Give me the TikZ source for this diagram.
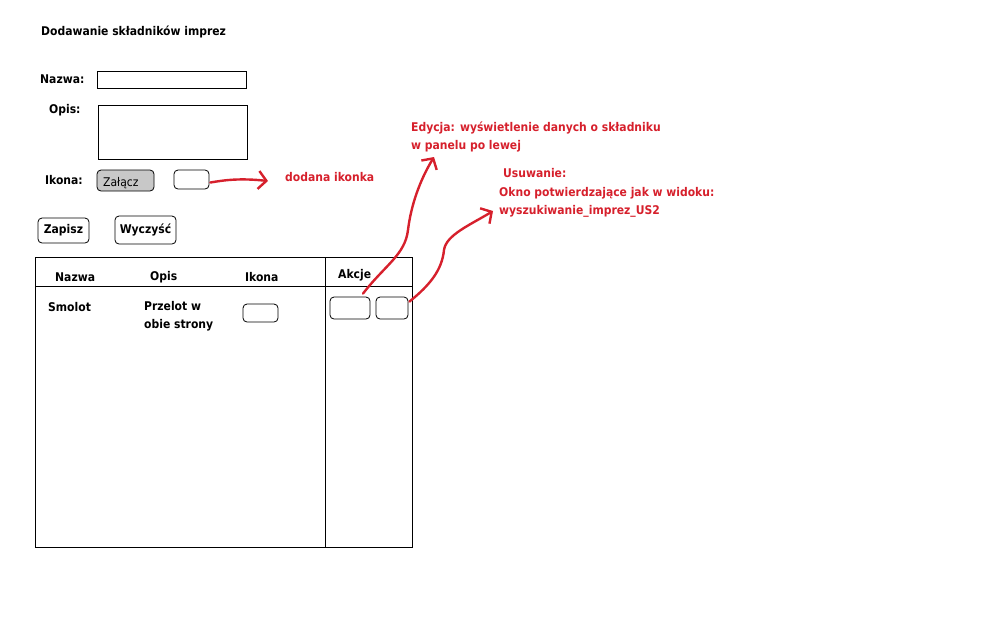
\documentclass[tikz,border=0pt]{standalone}
\usepackage{fontspec}
\setmainfont{DejaVu Sans Condensed}
\usepackage{tikz}
\usetikzlibrary{arrows.meta,positioning}
\definecolor{pen}{RGB}{214,32,44}
\definecolor{btn}{RGB}{200,200,200}

\begin{document}
\begin{tikzpicture}[x=1pt,y=-1pt,
lbl/.style={anchor=west, inner sep=0pt, font=\fontsize{12}{18}\selectfont\bfseries},
note/.style={lbl, text=pen},
field/.style={draw=black, thick, inner sep=0pt},
button/.style={draw=black, thick, rounded corners=4pt, inner sep=0pt, font=\fontsize{12}{18}\selectfont\bfseries},
scrib/.style={draw=pen, line width=2.4pt, line cap=round, line join=round, -{Straight Barb[length=8pt,width=18pt,line width=2.4pt]}}
]
\useasboundingbox (0,0) rectangle (1008,630);
%Nodes
\node[lbl]    (title)   at (41,32)   {Dodawanie składników imprez};
\node[lbl]    (nazwa)   at (40,79)   {Nazwa:};
\node[field, minimum width=149pt, minimum height=17pt] (nazwaBox) at (171.5,79.5) {};
\node[lbl]    (opis)    at (49,110)  {Opis:};
\node[field, minimum width=149pt, minimum height=54pt] (opisBox) at (172.5,132) {};
\node[lbl]    (ikona)   at (45,180)  {Ikona:};
\node[button, fill=btn, minimum width=57pt, minimum height=21pt] (zalacz) at (125.5,180.5) {};
\node[lbl, font=\fontsize{12}{18}\selectfont] (zalaczTxt) at (103,183) {Załącz};
\node[button, minimum width=35pt, minimum height=19pt] (ikonaBox) at (191.5,179.5) {};
\node[note]   (dodana)  at (285,177) {dodana ikonka};
\node[button, minimum width=51pt, minimum height=25pt] (zapisz)  at (63.5,230.5) {Zapisz};
\node[button, minimum width=61pt, minimum height=28pt] (wyczysc) at (145.5,230)  {Wyczyść};
%Table
\node[field, minimum width=377pt, minimum height=290pt] (tabela) at (223.5,402) {};
\coordinate (hL) at (35,286);
\coordinate (hR) at (412,286);
\coordinate (vT) at (325,257);
\coordinate (vB) at (325,547);
\node[lbl] (colNazwa) at (55,277)  {Nazwa};
\node[lbl] (colOpis)  at (150,277) {Opis};
\node[lbl] (colIkona) at (245,277) {Ikona};
\node[lbl] (colAkcje) at (338,275) {Akcje};
\node[lbl] (smolot)   at (48,307)  {Smolot};
\node[lbl, align=left] (przelot) at (144,316) {Przelot w\\obie strony};
\node[button, minimum width=35pt, minimum height=18pt] (ikonaMala) at (260.5,313) {};
\node[button, minimum width=40pt, minimum height=22pt] (edytuj) at (350,308) {};
\node[button, minimum width=32pt, minimum height=22pt] (usun)   at (392,308) {};
%Notes
\node[note, align=left] (edycja) at (411,137) {Edycja: wyświetlenie danych o składniku\\w panelu po lewej};
\node[note] (usuwanie) at (503,173) {Usuwanie:};
\node[note, align=left] (okno) at (499,202) {Okno potwierdzające jak w widoku:\\wyszukiwanie\_imprez\_US2};
\coordinate (tipIkona)  at (268,181);
\coordinate (tipEdycja) at (434,157);
\coordinate (tipUsun)   at (493,211);
%Lines
\draw[thick] (hL) -- (hR);
\draw[thick] (vT) -- (vB);
\draw[scrib] (ikonaBox.east) ++(1,3) .. controls (225,180) and (240,178) .. (tipIkona);
\draw[scrib] (edytuj.north) ++(13,-3) .. controls (385,265) and (405,255) .. (408,230)
  .. controls (411,205) and (420,180) .. (tipEdycja);
\draw[scrib] (usun.north east) ++(1,5) .. controls (430,285) and (442,270) .. (444,250)
  .. controls (446,235) and (470,225) .. (tipUsun);
\end{tikzpicture}
\end{document}
